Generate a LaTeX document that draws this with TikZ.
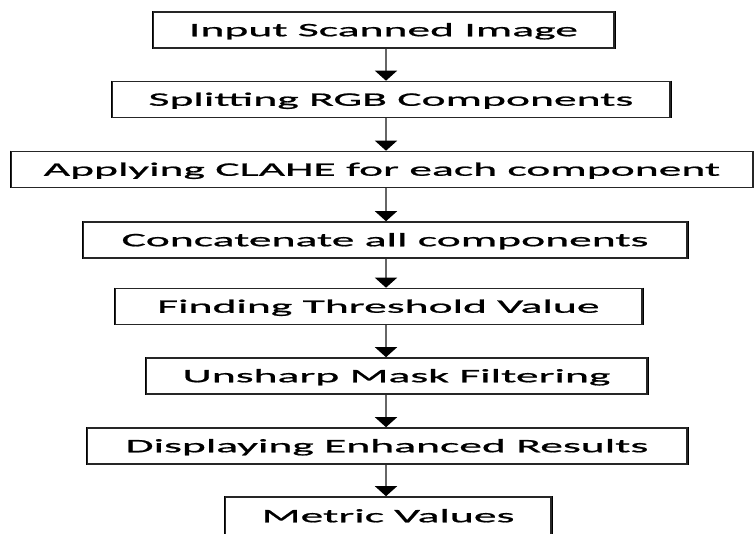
\documentclass[tikz,border=0pt]{standalone}
\usepackage{fontspec}
\setmainfont{Carlito}[FakeStretch=2.4, FakeBold=1]
\usetikzlibrary{arrows.meta}
\tikzstyle{line} = [draw, black!60, line width=1.4pt, -{Triangle[width=22pt,length=10pt,black]}]

\begin{document}
\begin{tikzpicture}[x=1pt, y=-1pt,
	box/.style={draw=black!85, line width=1.6pt, inner sep=0pt,
		minimum height=36pt, text height=12.5pt, text depth=0pt,
		font=\fontsize{19}{22}\selectfont,
		append after command={[black!85, line width=3pt]
			(\tikzlastnode.north west) edge (\tikzlastnode.south west)
			(\tikzlastnode.north east) edge (\tikzlastnode.south east)}}]
	\useasboundingbox (0,0) rectangle (754,533);
	%% Steps
	\node [box, minimum width=461pt] at (383.5,30) (input) {Input Scanned Image};
	\node [box, minimum width=558pt] at (391,99.5) (split) {Splitting RGB Components};
	\node [box, minimum width=742pt] at (382,169.5) (clahe) {Applying CLAHE for each component};
	\node [box, minimum width=604pt] at (385,240) (concat) {Concatenate all components};
	\node [box, minimum width=527pt] at (378.5,306.5) (thresh) {Finding Threshold Value};
	\node [box, minimum width=501pt] at (396.5,376) (unsharp) {Unsharp Mask Filtering};
	\node [box, minimum width=600pt] at (387,446) (display) {Displaying Enhanced Results};
	\node [box, minimum width=326pt, minimum height=38pt] at (388,516) (metric) {Metric Values};
	%% Flows
	\coordinate (axis) at (386,0);
	\path [line] (input.south -| axis) to (split.north -| axis);
	\path [line] (split.south -| axis) to (clahe.north -| axis);
	\path [line] (clahe.south -| axis) to (concat.north -| axis);
	\path [line] (concat.south -| axis) to (thresh.north -| axis);
	\path [line] (thresh.south -| axis) to (unsharp.north -| axis);
	\path [line] (unsharp.south -| axis) to (display.north -| axis);
	\path [line] (display.south -| axis) to (metric.north -| axis);
\end{tikzpicture}
\end{document}
